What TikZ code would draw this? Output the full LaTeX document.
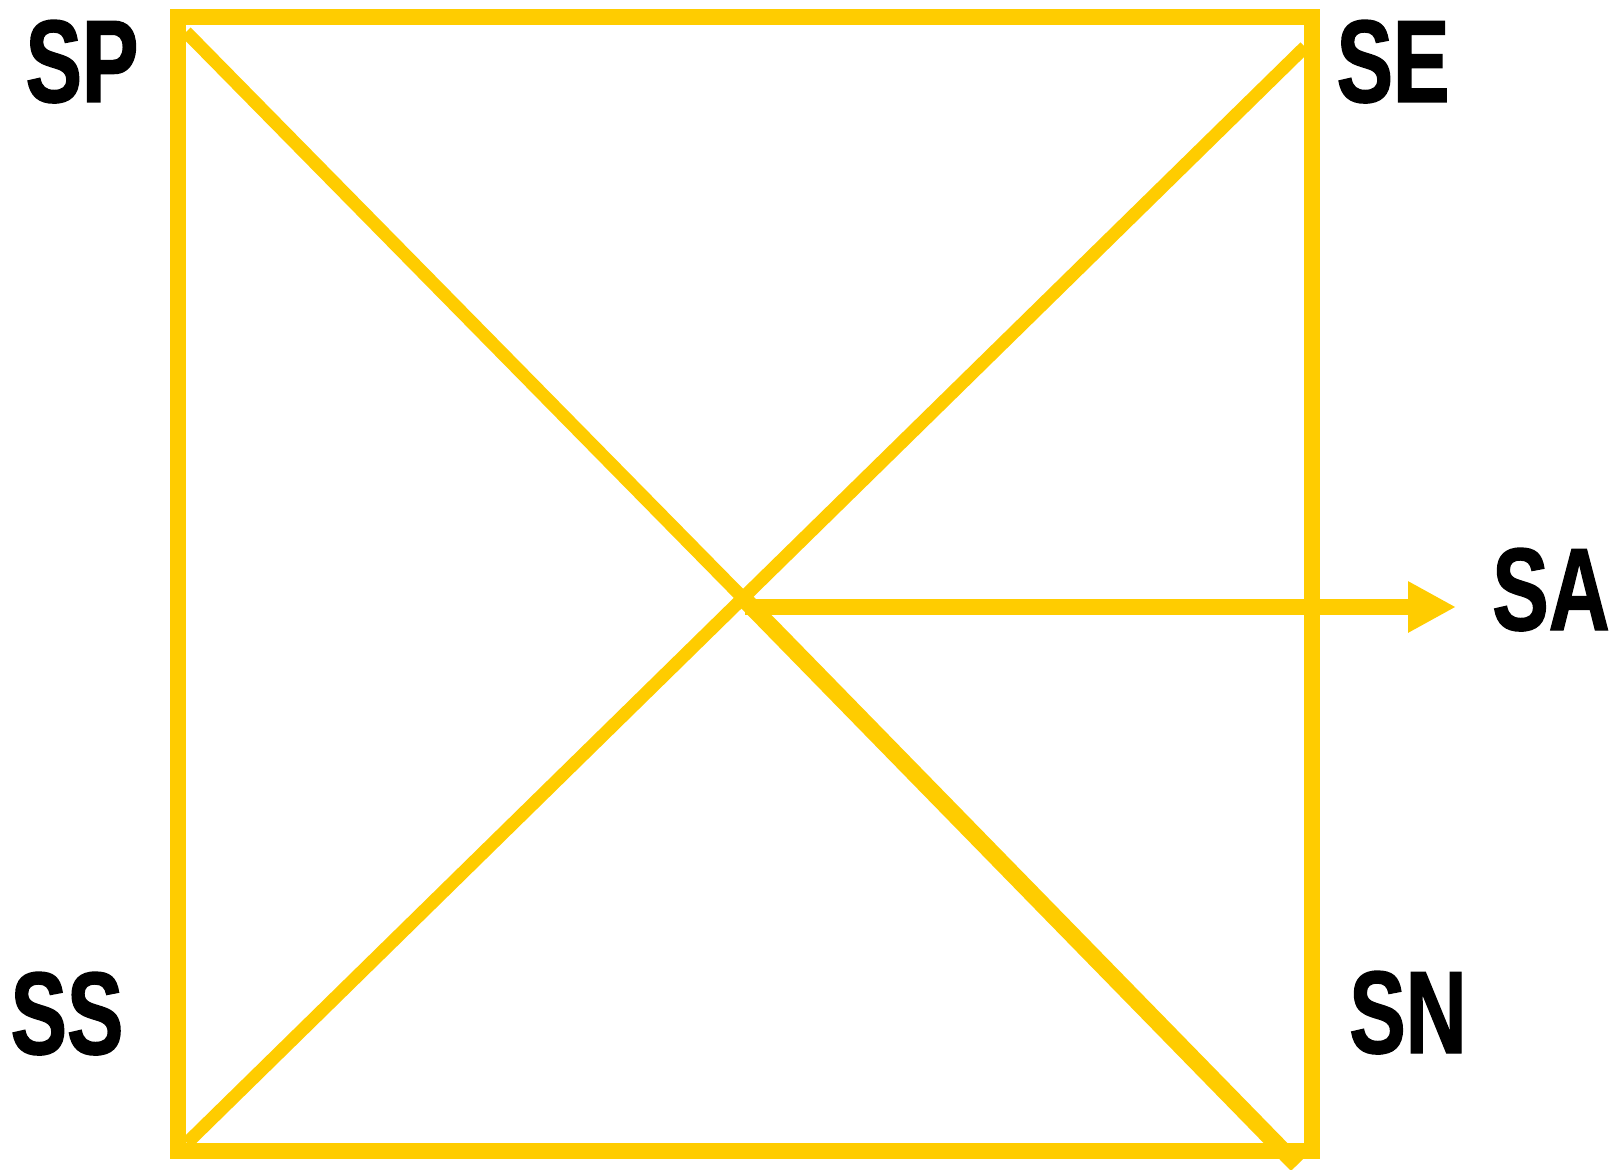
\documentclass[tikz,border=0pt]{standalone}
\usepackage{fontspec}
\usetikzlibrary{arrows.meta}
\newfontfamily\labfont{Liberation Sans}[FakeStretch=0.72,FakeBold=1.2]
\definecolor{ylw}{RGB}{255,204,0}
\begin{document}
\begin{tikzpicture}[x=0.5pt,y=-0.5pt,
  lab/.style={inner sep=0pt,anchor=base,font=\labfont\bfseries\fontsize{58.7}{60}\selectfont,text=black},
  frame/.style={draw=ylw,line width=8pt,miter limit=10},
  thin/.style={draw=ylw,line width=6.5pt},
  thick/.style={draw=ylw,line width=8.5pt},
  arr/.style={draw=ylw,line width=8pt,-{Triangle[length=24pt,width=24pt]}}]
\useasboundingbox (0,0) rectangle (1609,1170);
\clip (0,0) rectangle (1609,1170);
% corners of the frame
\coordinate (tl) at (178,17);
\coordinate (tr) at (1312,17);
\coordinate (br) at (1312,1151);
\coordinate (bl) at (178,1151);
% diagonals
\coordinate (d1s) at (186,32);
\coordinate (d1e) at (1297,1165);
\coordinate (d2s) at (187,1143);
\coordinate (d2e) at (1305,47);
\coordinate (x) at (743,598);
\coordinate (a0) at (745,607);
\coordinate (a1) at (1456,607);
% labels
\node[lab] (SP) at (82,102) {SP};
\node[lab] (SE) at (1393,102) {SE};
\node[lab] (SA) at (1551,630) {SA};
\node[lab] (SS) at (67,1054) {SS};
\node[lab] (SN) at (1408,1053) {SN};
% drawing
\draw[frame] (tl) -- (tr) -- (br) -- (bl) -- cycle;
\draw[thin] (d1s) -- (x);
\draw[thick] (x) -- (d1e);
\draw[thin] (d2s) -- (d2e);
\draw[arr] (a0) -- (a1);
\end{tikzpicture}
\end{document}
